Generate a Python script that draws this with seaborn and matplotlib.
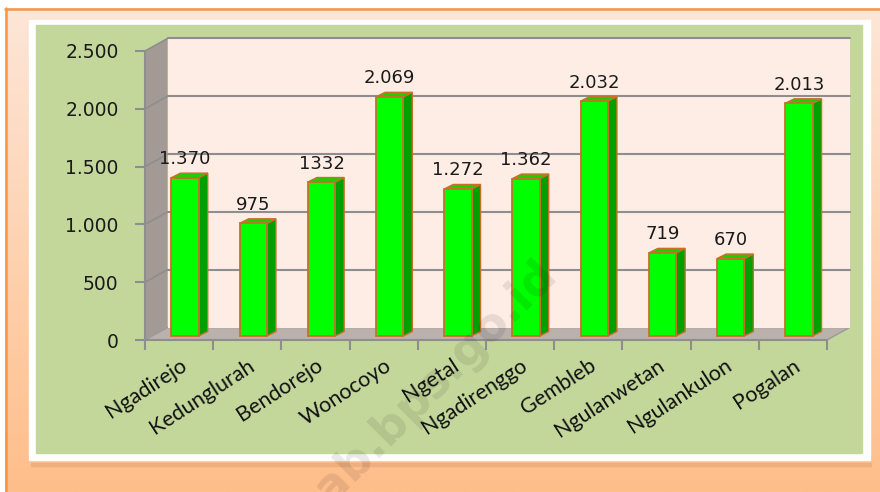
import matplotlib
matplotlib.use('Agg')
import matplotlib.pyplot as plt
import numpy as np
import seaborn as sns
from matplotlib.patches import Polygon, Rectangle

# Data
villages = ['Ngadirejo', 'Kedunglurah', 'Bendorejo', 'Wonocoyo', 'Ngetal',
            'Ngadirenggo', 'Gembleb', 'Ngulanwetan', 'Ngulankulon', 'Pogalan']
values = [1370, 975, 1332, 2069, 1272, 1362, 2032, 719, 670, 2013]
value_labels = ['1.370', '975', '1332', '2.069', '1.272', '1.362', '2.032', '719', '670', '2.013']
y_ticks = [0, 500, 1000, 1500, 2000, 2500]
y_tick_labels = ['0', '500', '1.000', '1.500', '2.000', '2.500']

sns.set_theme(style='white')
plt.rcParams['font.family'] = ['DejaVu Sans']

W, H = 880, 492
fig = plt.figure(figsize=(W / 100, H / 100), dpi=100)

# Background decoration in pixel coords
bg = fig.add_axes([0, 0, 1, 1], zorder=-1)
bg.set_xlim(0, W)
bg.set_ylim(H, 0)
bg.axis('off')
c_top = np.array([253, 230, 216]) / 255
c_bot = np.array([255, 190, 138]) / 255
t = np.linspace(0, 1, 256)[:, None, None]
grad = c_top + (c_bot - c_top) * t
bg.imshow(np.repeat(grad, 2, axis=1), extent=(5, W, H, 8), aspect='auto', zorder=0)
bg.plot([5, W], [8.5, 8.5], color='#f79646', lw=1.8, zorder=1)
bg.plot([5.5, 5.5], [8, H], color='#f79646', lw=1.8, zorder=1)
bg.add_patch(Rectangle((31, 463), 840, 3, color='#e8a878', alpha=0.6, zorder=1))
bg.add_patch(Rectangle((29, 20), 841, 440, color='white', zorder=2))
bg.add_patch(Rectangle((36, 25), 826, 428, color='#c4d79b', zorder=3))

# Front plane of the chart (pixels)
L, R, B, T = 145, 827, 340, 51
ax = fig.add_axes([L / W, 1 - B / H, (R - L) / W, (B - T) / H])
ax.set_xlim(-0.5, 9.5)
ax.set_ylim(0, 2500)
ux = (R - L) / 10.0
uy = (B - T) / 2500.0
WX, WY = 22.5 / ux, 12.5 / uy     # wall depth
BX, BY = 6 / ux, 4 / uy           # bar offset from front
DX, DY = 9 / ux, 4.5 / uy         # bar depth

sns.barplot(x=villages, y=values, width=0.4, color='#00ff00', edgecolor='#c8702a',
            linewidth=1.3, errorbar=None, saturation=1, ax=ax, zorder=3)
bars = list(ax.patches)

# walls and floor
x0, x1 = -0.5, 9.5
ax.add_patch(Polygon([(x0, 0), (x0, 2500), (x0 + WX, 2500 + WY), (x0 + WX, WY)],
                     closed=True, facecolor='#a39a96', edgecolor='none', zorder=0.2, clip_on=False))
ax.add_patch(Polygon([(x0, 0), (x1, 0), (x1 + WX, WY), (x0 + WX, WY)],
                     closed=True, facecolor='#bab1ad', edgecolor='#9a9a9a', lw=1, zorder=0.2, clip_on=False))
ax.add_patch(Rectangle((x0 + WX, WY), 10, 2500, facecolor='#fdede5', edgecolor='none',
                       zorder=0.3, clip_on=False))
for v in y_ticks[1:]:
    ax.plot([x0 + WX, x1 + WX], [v + WY, v + WY], color='#8e8e8e', lw=1.5, zorder=0.5, clip_on=False)
    ax.plot([x0, x0 + WX], [v, v + WY], color='#8e8e8e', lw=1.2, zorder=0.5, clip_on=False)
ax.plot([x0, x0], [0, 2500], color='#8e8e8e', lw=1.5, zorder=0.6, clip_on=False)
ax.plot([x0, x1], [0, 0], color='#8e8e8e', lw=1.5, zorder=0.6, clip_on=False)

# 3D bars
for p, v, lab in zip(bars, values, value_labels):
    p.set_x(p.get_x() + BX)
    p.set_y(BY)
    p.set_clip_on(False)
    a = p.get_x()
    b = a + p.get_width()
    ax.add_patch(Polygon([(b, BY), (b, v + BY), (b + DX, v + BY + DY), (b + DX, BY + DY)],
                         closed=True, facecolor='#00a000', edgecolor='#c8702a', lw=1.0,
                         zorder=2.9, clip_on=False))
    ax.add_patch(Polygon([(a, v + BY), (b, v + BY), (b + DX, v + BY + DY), (a + DX, v + BY + DY)],
                         closed=True, facecolor='#22cc00', edgecolor='#c8702a', lw=1.0,
                         zorder=2.9, clip_on=False))
    ax.text((a + b) / 2, v + BY + DY + 5 / uy, lab, ha='center', va='bottom',
            fontsize=13, color='#1a1a1a', zorder=4)

ax.patch.set_visible(False)
for s in ax.spines.values():
    s.set_visible(False)

ax.set_yticks(y_ticks)
ax.set_yticklabels(y_tick_labels, fontsize=13.5, color='#1a1a1a')
ax.tick_params(axis='y', left=True, length=7, width=1.5, color='#8e8e8e', pad=12)

ax.set_xticks(range(len(villages)))
ax.set_xticklabels(villages, rotation=33, ha='right', rotation_mode='anchor',
                   fontsize=15.5, family='Lato', color='#111111')
ax.set_xticks(np.arange(-0.5, 10, 1), minor=True)
ax.tick_params(axis='x', which='major', length=0, pad=11)
ax.tick_params(axis='x', which='minor', bottom=True, length=7, width=1.5, color='#8e8e8e')
ax.set_xlabel('')
ax.set_ylabel('')

# watermark
fig.text(550 / W, 1 - 268 / H, 'ab.bps.go.id', rotation=45, rotation_mode='anchor',
         ha='right', va='center', fontsize=33, fontweight='bold', color='black', alpha=0.09, zorder=10)

fig.savefig('out.png', dpi=100)
